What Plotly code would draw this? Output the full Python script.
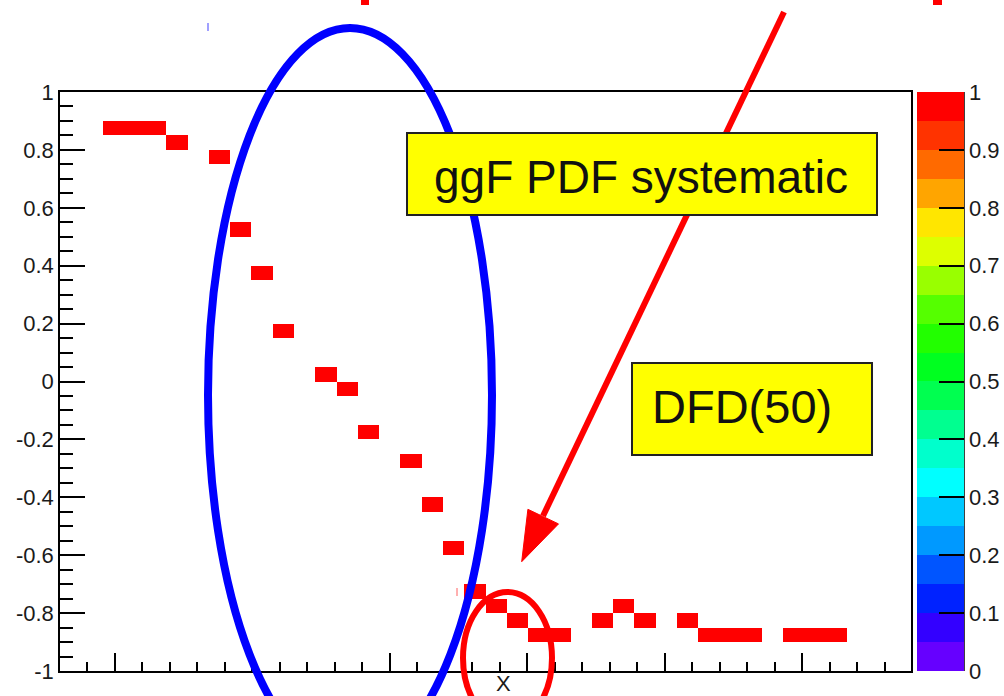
import plotly.graph_objects as go

# ---------------- data ----------------
n_xbins = 40
n_ybins = 40
# occupied cells: x bin index, y bin centre, content
cell_xbin = [2, 3, 4, 5, 7, 8, 9, 10, 12, 13, 14, 16, 17, 18, 19, 20, 21, 22, 23,
             25, 26, 27, 29, 30, 31, 32, 34, 35, 36]
cell_y = [0.875, 0.875, 0.875, 0.825, 0.775, 0.525, 0.375, 0.175, 0.025, -0.025,
          -0.175, -0.275, -0.425, -0.575, -0.725, -0.775, -0.825, -0.875, -0.875,
          -0.825, -0.775, -0.825, -0.825, -0.875, -0.875, -0.875, -0.875, -0.875, -0.875]
cell_z = [1.0, 1.0, 1.0, 1.0, 1.0, 1.0, 1.0, 1.0, 1.0, 1.0, 1.0, 1.0, 1.0, 1.0, 1.0,
          1.0, 1.0, 1.0, 1.0, 1.0, 1.0, 1.0, 1.0, 1.0, 1.0, 1.0, 1.0, 1.0, 1.0]

y_tickvals = [-1, -0.8, -0.6, -0.4, -0.2, 0, 0.2, 0.4, 0.6, 0.8, 1]
y_ticktext = ["-1", "-0.8", "-0.6", "-0.4", "-0.2", "0", "0.2", "0.4", "0.6", "0.8", "1"]
cb_tickvals = [0, 0.1, 0.2, 0.3, 0.4, 0.5, 0.6, 0.7, 0.8, 0.9, 1]
cb_ticktext = ["0", "0.1", "0.2", "0.3", "0.4", "0.5", "0.6", "0.7", "0.8", "0.9", "1"]

palette = ["#6600FF", "#3300FF", "#0022FF", "#0055FF", "#0099FF", "#00C8FF", "#00FFFF",
           "#00FFCC", "#00FF90", "#00FF50", "#00FF20", "#22FF00", "#55FF00", "#99FF00",
           "#DDFF00", "#FFE600", "#FFA500", "#FF6A00", "#FF3300", "#FF0000"]

box1_text = "ggF PDF systematic"
box2_text = "DFD(50)"
x_title = "X"

# ---------------- build grid ----------------
x_centers = [i + 0.5 for i in range(n_xbins)]
y_centers = [-1 + 0.05 * j + 0.025 for j in range(n_ybins)]
z = [[None] * n_xbins for _ in range(n_ybins)]
for xb, yc, val in zip(cell_xbin, cell_y, cell_z):
    jb = int(round((yc + 1 - 0.025) / 0.05))
    z[jb][xb] = val

colorscale = []
nc = len(palette)
for i, c in enumerate(palette):
    colorscale.append([i / nc, c])
    colorscale.append([(i + 1) / nc, c])

W, H = 1004, 696
ML, MR, MT, MB = 60, 93, 92, 25
PW, PH = W - ML - MR, H - MT - MB


def px(x):
    return (x - ML) / PW


def py(y):
    return (H - MB - y) / PH


FONT = "Liberation Sans, Arial, sans-serif"
TXT = "#1a1a1a"

fig = go.Figure()
fig.add_trace(go.Heatmap(
    x=x_centers, y=y_centers, z=z,
    zmin=0, zmax=1, colorscale=colorscale,
    hoverongaps=False,
    colorbar=dict(
        x=px(917), xanchor="left", xpad=0,
        y=0.5, yanchor="middle", ypad=0,
        len=1, lenmode="fraction",
        thickness=47, thicknessmode="pixels",
        outlinewidth=0,
        tickmode="array", tickvals=cb_tickvals, ticktext=cb_ticktext,
        ticks="inside", ticklen=25, tickwidth=1.5, tickcolor="black",
        tickfont=dict(family=FONT, size=22, color=TXT),
    ),
))

fig.update_xaxes(
    range=[0, n_xbins], showgrid=False, zeroline=False,
    showline=True, mirror=True, linecolor="black", linewidth=1.5,
    tickmode="linear", tick0=2.575, dtick=6.461,
    ticks="inside", ticklen=18, tickwidth=1.5, tickcolor="black",
    showticklabels=False,
    minor=dict(tickmode="linear", tick0=1.283, dtick=1.2922, ticks="inside",
               ticklen=9, tickwidth=1.5, tickcolor="black", showgrid=False),
)
fig.update_yaxes(
    range=[-1, 1], showgrid=False, zeroline=False,
    showline=True, mirror=True, linecolor="black", linewidth=1.5,
    tickmode="array", tickvals=y_tickvals, ticktext=y_ticktext,
    ticks="inside", ticklen=25, tickwidth=1.5, tickcolor="black",
    tickfont=dict(family=FONT, size=22, color=TXT),
    minor=dict(tickmode="linear", tick0=-1, dtick=0.05, ticks="inside",
               ticklen=13, tickwidth=1.5, tickcolor="black", showgrid=False),
)

shapes = []
# colorbar right axis line
shapes.append(dict(type="line", xref="paper", yref="paper",
                   x0=px(964), x1=px(964), y0=0, y1=1,
                   line=dict(color="black", width=1.5)))
# blue ellipse
shapes.append(dict(type="circle", xref="paper", yref="paper",
                   x0=px(208), x1=px(492), y0=py(28), y1=py(762),
                   line=dict(color="#0000FF", width=8)))
# red ellipse
shapes.append(dict(type="circle", xref="paper", yref="paper",
                   x0=px(463), x1=px(552), y0=py(592), y1=py(724),
                   line=dict(color="#FF0000", width=6)))
# red arrow shaft
shapes.append(dict(type="line", xref="paper", yref="paper",
                   x0=px(784), y0=py(12), x1=px(543), y1=py(516),
                   line=dict(color="#FF0000", width=6)))
# arrow head
head = [(521.7, 561.7), (527.9, 509.3), (558.5, 523.9)]
path = "M {} {} L {} {} L {} {} Z".format(
    px(head[0][0]), py(head[0][1]), px(head[1][0]), py(head[1][1]),
    px(head[2][0]), py(head[2][1]))
shapes.append(dict(type="path", xref="paper", yref="paper", path=path,
                   fillcolor="#FF0000", line=dict(color="#FF0000", width=1)))
# yellow boxes
shapes.append(dict(type="rect", xref="paper", yref="paper",
                   x0=px(407), x1=px(877), y0=py(133), y1=py(215),
                   fillcolor="#FFFF00", line=dict(color="#222222", width=2)))
shapes.append(dict(type="rect", xref="paper", yref="paper",
                   x0=px(632), x1=px(872), y0=py(363), y1=py(455),
                   fillcolor="#FFFF00", line=dict(color="#222222", width=2)))
# small fragments of cropped drawings
shapes.append(dict(type="rect", xref="paper", yref="paper",
                   x0=px(361), x1=px(369), y0=py(0), y1=py(5),
                   fillcolor="#FF0000", line=dict(width=0)))
shapes.append(dict(type="rect", xref="paper", yref="paper",
                   x0=px(933), x1=px(942), y0=py(0), y1=py(5),
                   fillcolor="#FF0000", line=dict(width=0)))
shapes.append(dict(type="line", xref="paper", yref="paper",
                   x0=px(208), x1=px(208), y0=py(23), y1=py(31),
                   line=dict(color="#8080FF", width=1.5)))
shapes.append(dict(type="line", xref="paper", yref="paper",
                   x0=px(457), x1=px(457), y0=py(588), y1=py(596),
                   line=dict(color="#FF6060", width=1)))

annotations = [
    dict(text=box1_text, xref="paper", yref="paper", x=px(641), y=py(177),
         xanchor="center", yanchor="middle", showarrow=False,
         font=dict(family=FONT, size=46, color="#111111")),
    dict(text=box2_text, xref="paper", yref="paper", x=px(742), y=py(406),
         xanchor="center", yanchor="middle", showarrow=False,
         font=dict(family=FONT, size=47, color="#111111")),
    dict(text=x_title, xref="paper", yref="paper", x=px(503), y=py(698),
         xanchor="center", yanchor="bottom", showarrow=False,
         font=dict(family=FONT, size=22, color=TXT)),
]

fig.update_layout(
    width=W, height=H,
    margin=dict(l=ML, r=MR, t=MT, b=MB, pad=0, autoexpand=False),
    paper_bgcolor="white", plot_bgcolor="white",
    shapes=shapes, annotations=annotations,
    showlegend=False,
)

fig.write_html("out.html")
